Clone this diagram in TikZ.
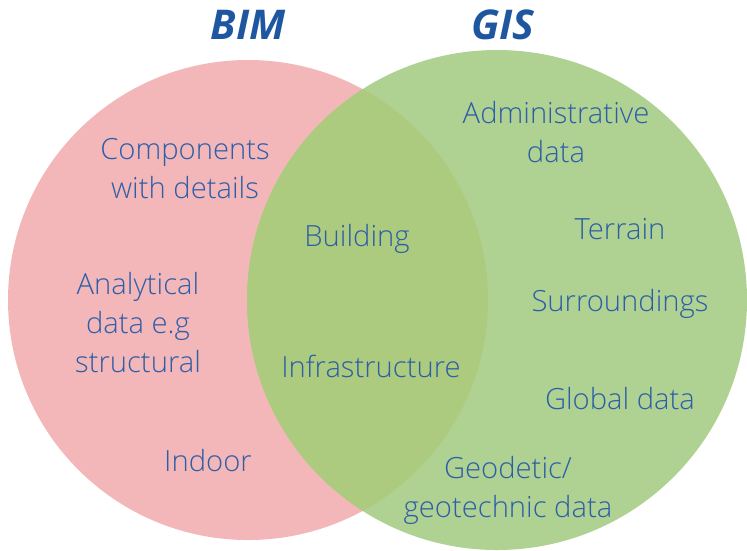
\documentclass[tikz,border=0pt]{standalone}
\usepackage{fontspec}
\setmainfont{Open Sans}
\newfontfamily\itemfont{Open Sans Light}
\definecolor{bimfill}{HTML}{F4B7B9}
\definecolor{gisfill}{HTML}{AFD293}
\definecolor{bothfill}{HTML}{ADCB7E}
\definecolor{labelblue}{HTML}{2D5EA8}
\definecolor{titleblue}{HTML}{1F56A0}
\begin{document}
\begin{tikzpicture}[x=1pt,y=-1pt,
  item/.style={text=labelblue,font=\itemfont\fontsize{29.2}{39}\selectfont,align=center,inner sep=0pt},
  title/.style={text=titleblue,font=\fontsize{41}{41}\selectfont\bfseries\itshape,inner sep=0pt}]
\useasboundingbox (0,0) rectangle (747,550);
% the two sets
\fill[bimfill] (248,300) circle[radius=240];
\fill[gisfill] (497,300) circle[radius=250];
% their intersection
\begin{scope}
  \clip (248,300) circle[radius=240];
  \fill[bothfill] (497,300) circle[radius=250];
\end{scope}
% set titles
\node[title] (bim) at (248,25) {BIM};
\node[title] (gis) at (503,25) {GIS};
% BIM only
\node[item] (comp) at (185,169) {Components\\with details};
\node[item] (anal) at (138,323) {Analytical\\data e.g\\structural};
\node[item] (indoor) at (208,461) {Indoor};
% shared
\node[item] (bldg) at (357,239) {Building};
\node[item] (infra) at (371,366) {Infrastructure};
% GIS only
\node[item] (admin) at (556,132) {Administrative\\data};
\node[item] (terrain) at (620,229) {Terrain};
\node[item] (surr) at (620,304) {Surroundings};
\node[item] (global) at (620,399) {Global data};
\node[item] (geo) at (508,490) {Geodetic/\\geotechnic data};
\end{tikzpicture}
\end{document}
